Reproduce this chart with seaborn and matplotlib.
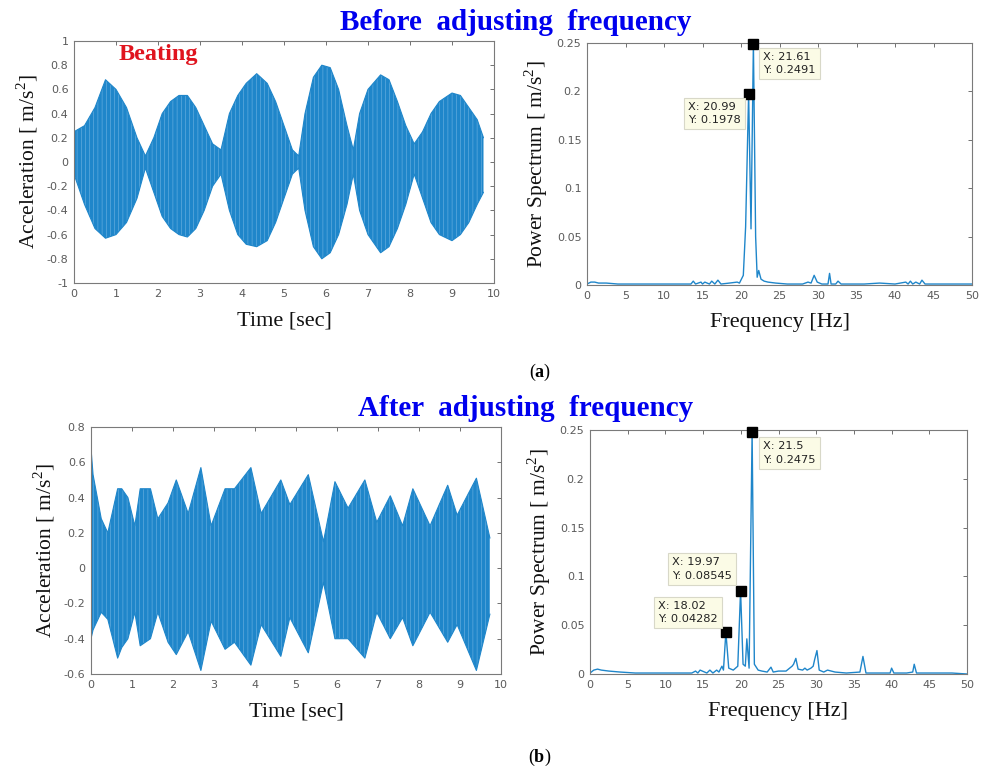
import numpy as np
import pandas as pd
import matplotlib
matplotlib.use("Agg")
import matplotlib.pyplot as plt
import seaborn as sns

# ---------------- data ----------------
# (a) time signal before adjustment: envelope
t_before = [0.0, 0.25, 0.5, 0.75, 1.0, 1.25, 1.5, 1.7, 1.9, 2.1, 2.3, 2.5, 2.7, 2.9,
            3.1, 3.3, 3.5, 3.7, 3.9, 4.1, 4.35, 4.6, 4.8, 5.0, 5.2, 5.35, 5.5, 5.7,
            5.9, 6.1, 6.3, 6.5, 6.65, 6.8, 7.0, 7.3, 7.5, 7.7, 7.9, 8.1, 8.3, 8.5,
            8.7, 9.0, 9.2, 9.4, 9.6, 9.75]
upper_before = [0.25, 0.30, 0.45, 0.68, 0.60, 0.45, 0.20, 0.05, 0.20, 0.40, 0.50, 0.55,
                0.55, 0.45, 0.30, 0.15, 0.10, 0.40, 0.55, 0.65, 0.73, 0.65, 0.50, 0.30,
                0.10, 0.05, 0.40, 0.70, 0.80, 0.78, 0.60, 0.30, 0.10, 0.40, 0.60, 0.72,
                0.68, 0.50, 0.30, 0.15, 0.25, 0.40, 0.50, 0.57, 0.55, 0.45, 0.35, 0.20]
lower_before = [-0.10, -0.35, -0.55, -0.63, -0.60, -0.50, -0.30, -0.05, -0.25, -0.45,
                -0.55, -0.60, -0.62, -0.55, -0.40, -0.20, -0.10, -0.40, -0.60, -0.68,
                -0.70, -0.65, -0.50, -0.30, -0.10, -0.05, -0.40, -0.70, -0.80, -0.75,
                -0.60, -0.35, -0.10, -0.40, -0.60, -0.75, -0.70, -0.55, -0.35, -0.10,
                -0.30, -0.50, -0.60, -0.65, -0.60, -0.50, -0.35, -0.25]

# (b) time signal after adjustment: envelope
t_after = [0.0, 0.05, 0.25, 0.41, 0.65, 0.75, 0.9, 1.07, 1.2, 1.45, 1.63, 1.88, 2.08,
           2.37, 2.68, 2.93, 3.27, 3.5, 3.9, 4.15, 4.63, 4.85, 5.3, 5.67, 5.95, 6.27,
           6.68, 6.97, 7.3, 7.6, 7.85, 8.27, 8.7, 8.93, 9.4, 9.73]
upper_after = [0.68, 0.53, 0.28, 0.20, 0.45, 0.45, 0.40, 0.24, 0.45, 0.45, 0.28, 0.37,
               0.50, 0.31, 0.57, 0.24, 0.45, 0.45, 0.57, 0.31, 0.50, 0.36, 0.53, 0.15,
               0.49, 0.34, 0.50, 0.26, 0.41, 0.24, 0.45, 0.24, 0.47, 0.30, 0.51, 0.17]
lower_after = [-0.40, -0.35, -0.25, -0.29, -0.51, -0.45, -0.40, -0.25, -0.44, -0.40,
               -0.25, -0.42, -0.49, -0.36, -0.58, -0.30, -0.46, -0.42, -0.55, -0.32,
               -0.50, -0.28, -0.48, -0.08, -0.40, -0.40, -0.51, -0.25, -0.40, -0.28,
               -0.44, -0.25, -0.42, -0.32, -0.58, -0.26]

# power spectra (frequency [Hz], power)
f_before = [0.0, 0.5, 1.0, 1.5, 2.5, 4.0, 6.0, 8.0, 10.0, 12.0, 13.5, 13.8, 14.1, 14.8,
            15.0, 15.3, 15.9, 16.2, 16.6, 17.0, 17.4, 18.5, 19.5, 19.8, 20.3, 20.6,
            20.99, 21.3, 21.61, 21.9, 22.1, 22.3, 22.6, 23.0, 23.5, 24.5, 26.0, 28.0,
            28.7, 29.1, 29.5, 29.9, 30.5, 31.3, 31.5, 31.7, 32.3, 32.6, 33.0, 36.0,
            38.0, 40.0, 41.4, 41.7, 42.0, 42.3, 42.7, 43.2, 43.5, 43.9, 45.0, 48.0, 50.0]
p_before = [0.001, 0.003, 0.003, 0.002, 0.002, 0.001, 0.001, 0.001, 0.001, 0.001,
            0.001, 0.004, 0.001, 0.003, 0.001, 0.003, 0.001, 0.004, 0.001, 0.005,
            0.001, 0.002, 0.003, 0.002, 0.010, 0.060, 0.1978, 0.058, 0.2491, 0.050,
            0.008, 0.015, 0.006, 0.004, 0.003, 0.002, 0.001, 0.001, 0.003, 0.002,
            0.010, 0.003, 0.001, 0.001, 0.012, 0.001, 0.001, 0.004, 0.001, 0.001,
            0.002, 0.001, 0.003, 0.001, 0.004, 0.001, 0.003, 0.001, 0.005, 0.001,
            0.001, 0.001, 0.001]

f_after = [0.0, 0.5, 1.0, 1.5, 2.5, 4.0, 6.0, 8.0, 10.0, 12.0, 13.5, 14.0, 14.3, 14.6,
           15.5, 15.9, 16.3, 16.8, 17.1, 17.5, 17.7, 18.02, 18.4, 19.0, 19.6, 19.97,
           20.3, 20.6, 20.8, 21.1, 21.5, 21.8, 22.3, 22.8, 23.5, 24.0, 24.3, 25.0,
           26.0, 26.8, 27.0, 27.3, 27.6, 28.2, 28.5, 28.8, 29.3, 29.6, 29.8, 30.1,
           30.4, 31.0, 31.5, 32.5, 34.0, 35.8, 36.2, 36.6, 38.0, 39.8, 40.0, 40.3,
           42.0, 42.8, 43.0, 43.3, 45.0, 48.0, 50.0]
p_after = [0.001, 0.004, 0.005, 0.004, 0.003, 0.002, 0.001, 0.001, 0.001, 0.001,
           0.001, 0.003, 0.001, 0.004, 0.001, 0.004, 0.001, 0.004, 0.002, 0.008,
           0.004, 0.04282, 0.006, 0.004, 0.008, 0.08545, 0.010, 0.008, 0.036, 0.006,
           0.2475, 0.010, 0.004, 0.003, 0.002, 0.007, 0.002, 0.003, 0.003, 0.008,
           0.010, 0.016, 0.005, 0.004, 0.006, 0.004, 0.006, 0.008, 0.015, 0.024,
           0.004, 0.002, 0.004, 0.002, 0.001, 0.002, 0.018, 0.001, 0.001, 0.001,
           0.006, 0.001, 0.001, 0.002, 0.010, 0.001, 0.001, 0.001, 0.0]

tips_before = [(21.61, 0.2491, "X: 21.61\nY: 0.2491"), (20.99, 0.1978, "X: 20.99\nY: 0.1978")]
tips_after = [(21.5, 0.2475, "X: 21.5\nY: 0.2475"), (19.97, 0.08545, "X: 19.97\nY: 0.08545"),
              (18.02, 0.04282, "X: 18.02\nY: 0.04282")]

time_ticks = [0, 1, 2, 3, 4, 5, 6, 7, 8, 9, 10]
freq_ticks = [0, 5, 10, 15, 20, 25, 30, 35, 40, 45, 50]
psd_ticks = [0, 0.05, 0.1, 0.15, 0.2, 0.25]
acc_ticks_a = [-1, -0.8, -0.6, -0.4, -0.2, 0, 0.2, 0.4, 0.6, 0.8, 1]
acc_ticks_b = [-0.6, -0.4, -0.2, 0, 0.2, 0.4, 0.6, 0.8]

# ---------------- style ----------------
sns.set_theme(style="white")
plt.rcParams["font.family"] = ["DejaVu Sans"]
plt.rcParams["mathtext.fontset"] = "custom"
plt.rcParams["mathtext.rm"] = "Liberation Serif"
plt.rcParams["mathtext.bf"] = "Liberation Serif:bold"
plt.rcParams["hatch.linewidth"] = 0.35

BLUE = "#1f86ca"
SERIF = "Liberation Serif"
TICKC = "#5a5a5a"

fig = plt.figure(figsize=(9.85, 7.76), dpi=100)
W, H = 985, 776


def add_ax(x0, y0, x1, y1):
    return fig.add_axes([x0 / W, 1 - y1 / H, (x1 - x0) / W, (y1 - y0) / H])


ax_tl = add_ax(74, 41, 494, 283)
ax_tr = add_ax(587, 43, 972, 285)
ax_bl = add_ax(91, 427, 501, 674)
ax_br = add_ax(590, 430, 967, 674)


def style(ax, xt, yt, xlim, ylim, xlabel, ylabel):
    ax.set_xlim(*xlim)
    ax.set_ylim(*ylim)
    ax.set_xticks(xt)
    ax.set_yticks(yt)
    ax.set_xticklabels([f"{v:g}" for v in xt])
    ax.set_yticklabels([f"{v:g}" for v in yt])
    ax.tick_params(direction="in", length=3, width=0.6, colors=TICKC, labelsize=8,
                   top=True, right=True, pad=4)
    for s in ax.spines.values():
        s.set_color("#7a7a7a")
        s.set_linewidth(0.8)
        s.set_visible(True)
    ax.set_xlabel(xlabel, family=SERIF, fontsize=16, color="#111111", labelpad=9)
    ax.set_ylabel(ylabel, family=SERIF, fontsize=15.5, color="#111111", labelpad=5)
    ax.grid(False)


def signal(ax, t, up, lo):
    df = pd.DataFrame({"t": t, "up": up, "lo": lo})
    ax.fill_between(df["t"], df["lo"], df["up"], facecolor=BLUE, edgecolor="#7dbbe6",
                    hatch="||||", lw=0)
    sns.lineplot(data=df, x="t", y="up", ax=ax, color=BLUE, lw=0.8)
    sns.lineplot(data=df, x="t", y="lo", ax=ax, color=BLUE, lw=0.8)


# (a) time signal
signal(ax_tl, t_before, upper_before, lower_before)
style(ax_tl, time_ticks, acc_ticks_a, (0, 10), (-1, 1), "Time [sec]", "Acceleration [ m/s$^2$]")
ax_tl.text(1.05, 0.89, "Beating", family=SERIF, fontweight="bold", fontsize=17.5,
           color="#e0141e", ha="left", va="center")

# (b) time signal
signal(ax_bl, t_after, upper_after, lower_after)
style(ax_bl, time_ticks, acc_ticks_b, (0, 10), (-0.6, 0.8), "Time [sec]", "Acceleration [ m/s$^2$]")

# spectra
sns.lineplot(x=f_before, y=p_before, ax=ax_tr, color=BLUE, lw=1.0)
style(ax_tr, freq_ticks, psd_ticks, (0, 50), (0, 0.25), "Frequency [Hz]", "Power Spectrum [ m/s$^2$]")
sns.lineplot(x=f_after, y=p_after, ax=ax_br, color=BLUE, lw=1.0)
style(ax_br, freq_ticks, psd_ticks, (0, 50), (0, 0.25), "Frequency [Hz]", "Power Spectrum [ m/s$^2$]")

bbox = dict(boxstyle="square,pad=0.35", fc="#fbfbe6", ec="#d8d8c8", lw=0.8)


def tip(ax, x, y, txt, dx, dy, ha, va):
    ax.plot([x], [y], marker="s", ms=6.5, color="black", ls="none", clip_on=False, zorder=5)
    ax.annotate(txt, xy=(x, y), xytext=(dx, dy), textcoords="offset pixels",
                ha=ha, va=va, multialignment="left", fontsize=8.2, color="#222222",
                bbox=bbox, linespacing=1.45, zorder=6, annotation_clip=False)


tip(ax_tr, *tips_before[0][:2], tips_before[0][2], 10, -8, "left", "top")
tip(ax_tr, *tips_before[1][:2], tips_before[1][2], -8, -8, "right", "top")
tip(ax_br, *tips_after[0][:2], tips_after[0][2], 11, -9, "left", "top")
tip(ax_br, *tips_after[1][:2], tips_after[1][2], -9, 10, "right", "bottom")
tip(ax_br, *tips_after[2][:2], tips_after[2][2], -8, 8, "right", "bottom")

# titles and panel labels
fig.text(516 / W, 1 - 22 / H, "Before  adjusting  frequency", family=SERIF, fontweight="bold",
         fontsize=21, color="#0000ee", ha="center", va="center")
fig.text(526 / W, 1 - 408 / H, "After  adjusting  frequency", family=SERIF, fontweight="bold",
         fontsize=21, color="#0000ee", ha="center", va="center")
fig.text(540 / W, 1 - 372 / H, r"($\mathbf{a}$)", family=SERIF, fontsize=13,
         color="black", ha="center", va="center")
fig.text(540 / W, 1 - 757 / H, r"($\mathbf{b}$)", family=SERIF, fontsize=13,
         color="black", ha="center", va="center")

fig.savefig("out.png", dpi=100)
